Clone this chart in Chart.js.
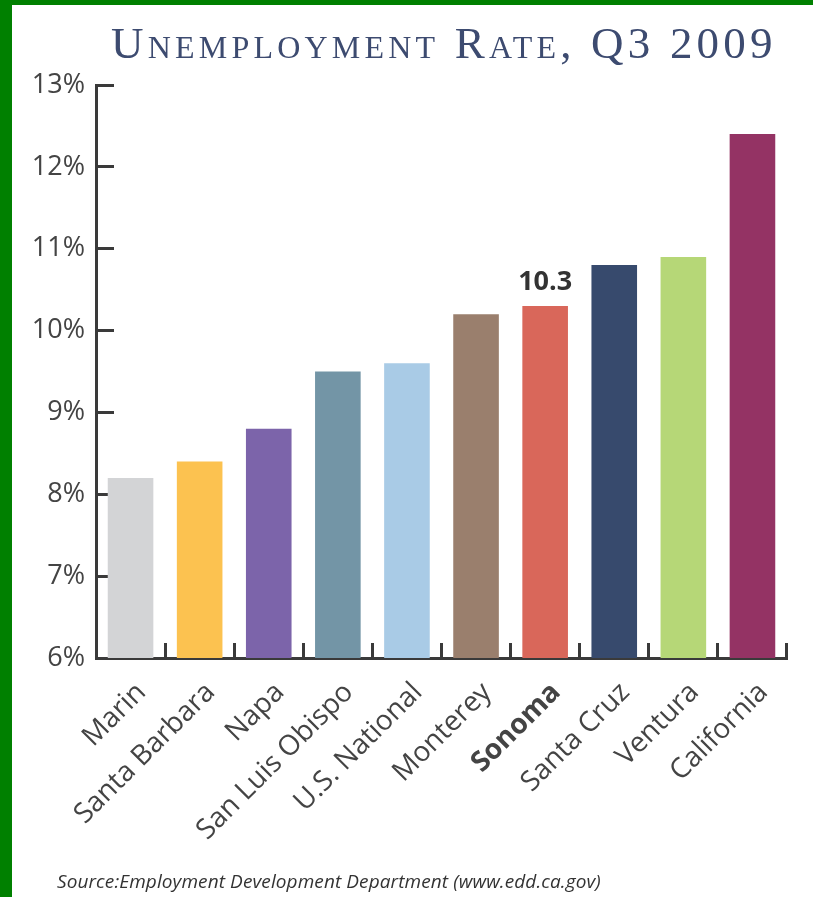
<!DOCTYPE html>
<html>
<head>
<meta charset="utf-8">
<script src="https://cdn.jsdelivr.net/npm/chart.js@4"></script>
<style>
  html, body { margin: 0; padding: 0; }
  body { width: 813px; height: 897px; background: #008000; position: relative; overflow: hidden; }
  #panel { position: absolute; left: 12px; top: 5px; width: 801px; height: 892px; background: #fff; }
  #title {
    position: absolute; left: 99px; top: 12px; white-space: nowrap;
    font-family: "Liberation Serif", serif; font-variant: small-caps;
    font-size: 45px; color: #3d4b70; letter-spacing: 4.2px;
  }
  #source {
    position: absolute; left: 45px; top: 863px; white-space: nowrap;
    font-family: "Open Sans", sans-serif; font-style: italic;
    font-size: 19px; color: #333; letter-spacing: 0.1px;
  }
  #wrap { position: absolute; left: 0; top: 0; width: 801px; height: 892px; }
</style>
</head>
<body>
<div id="panel">
  <div id="wrap"><canvas id="chart" width="801" height="892"></canvas></div>
  <div id="title">Unemployment Rate, Q3 2009</div>
  <div id="source">Source:Employment Development Department (www.edd.ca.gov)</div>
</div>
<script>
// ---- data ----
const regions = ['Marin', 'Santa Barbara', 'Napa', 'San Luis Obispo', 'U.S. National',
  'Monterey', 'Sonoma', 'Santa Cruz', 'Ventura', 'California'];
const rates = [8.2, 8.4, 8.8, 9.5, 9.6, 10.2, 10.3, 10.8, 10.9, 12.4];
const barColors = ['#d3d4d6', '#fcc250', '#7c64aa', '#7395a6', '#a9cbe6',
  '#9a7f6d', '#d9675a', '#374a6d', '#b6d777', '#943364'];
const yTicks = [6, 7, 8, 9, 10, 11, 12, 13];
const highlight = 'Sonoma';

const axisColor = '#3a3a3a';
const textColor = '#444';

// value label above the highlighted bar
const highlightLabel = {
  id: 'highlightLabel',
  afterDatasetsDraw(chart) {
    const i = regions.indexOf(highlight);
    const bar = chart.getDatasetMeta(0).data[i];
    const c = chart.ctx;
    c.save();
    c.font = 'bold 27px "Open Sans"';
    c.fillStyle = '#333';
    c.textAlign = 'center';
    c.textBaseline = 'alphabetic';
    c.fillText(rates[i].toFixed(1), bar.x, bar.y - 16);
    c.restore();
  }
};

new Chart(document.getElementById('chart'), {
  type: 'bar',
  data: {
    labels: regions,
    datasets: [{
      data: rates,
      backgroundColor: barColors,
      borderWidth: 0,
      categoryPercentage: 0.66,
      barPercentage: 1
    }]
  },
  plugins: [highlightLabel],
  options: {
    responsive: false,
    animation: false,
    devicePixelRatio: 1,
    layout: { padding: { top: 80, right: 26, left: 0, bottom: 0 } },
    plugins: {
      legend: { display: false },
      tooltip: { enabled: false }
    },
    scales: {
      x: {
        border: { color: axisColor, width: 3 },
        grid: { drawOnChartArea: false, tickLength: -15, tickColor: axisColor, tickWidth: 3 },
        ticks: {
          color: textColor,
          minRotation: 45,
          maxRotation: 45,
          padding: 33,
          labelOffset: 11,
          font: (ctx) => ({
            family: '"Open Sans"',
            size: 28,
            weight: regions[ctx.index] === highlight ? 'bold' : 'normal'
          })
        },
        afterFit: (s) => { s.height = 239; }
      },
      y: {
        min: yTicks[0],
        max: yTicks[yTicks.length - 1],
        border: { color: axisColor, width: 3 },
        grid: { drawOnChartArea: false, tickLength: -18, tickColor: axisColor, tickWidth: 3 },
        afterBuildTicks: (s) => { s.ticks = yTicks.map(v => ({ value: v })); },
        ticks: {
          color: textColor,
          padding: 29,
          font: { family: '"Open Sans"', size: 27 },
          callback: (v) => v + '%'
        },
        afterFit: (s) => { s.width = 84; }
      }
    }
  }
});
</script>
</body>
</html>
